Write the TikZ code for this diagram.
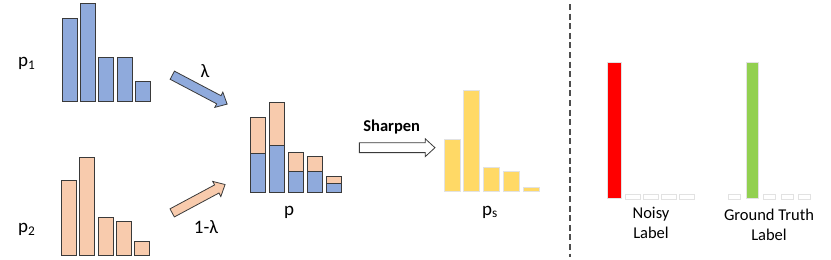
\documentclass[tikz,border=0pt]{standalone}
\usepackage{fontspec}
\setmainfont{Carlito}
\usepackage{tikz}
\usetikzlibrary{shapes.arrows, positioning}
\definecolor{barblue}{HTML}{8FAADC}
\definecolor{barpeach}{HTML}{F8CBAD}
\definecolor{baryellow}{HTML}{FFD966}
\definecolor{barred}{HTML}{FF0000}
\definecolor{bargreen}{HTML}{92D050}
\definecolor{edgedark}{HTML}{3A3A3A}
\definecolor{edgelight}{HTML}{E2E2E2}

\begin{document}
\begin{tikzpicture}[
  x=1pt, y=-1pt,
  bar/.style={line width=1pt, draw=edgedark},
  bluebar/.style={bar, fill=barblue},
  peachbar/.style={bar, fill=barpeach},
  softbar/.style={line width=0.9pt, draw=edgelight},
  plabel/.style={font=\fontsize{19}{21}\selectfont, anchor=base, inner sep=0pt},
  weight/.style={font=\fontsize{19}{21}\selectfont, anchor=base, inner sep=0pt},
  caption/.style={font=\fontsize{16.5}{20}\selectfont, align=center, anchor=north, inner sep=0pt},
  blockarrow/.style={single arrow, draw=edgedark, line width=0.8pt, inner sep=4.2pt,
                     single arrow head extend=4pt, single arrow tip angle=85},
]
\useasboundingbox (0,0) rectangle (831,260);

% input distributions
\foreach \top [count=\i] in {18.7,3.3,57.3,57.3,81.7}
  \draw[bluebar] ({62.7+18.1*(\i-1)},101.7) rectangle ({77.7+18.1*(\i-1)},\top);
\foreach \top [count=\i] in {180,157,217.7,221.7,241.3}
  \draw[peachbar] ({61.3+18.4*(\i-1)},255.7) rectangle ({76.3+18.4*(\i-1)},\top);

\node[plabel, anchor=base west] (p1) at (18,66.7) {p\textsubscript{1}};
\node[plabel, anchor=base west] (p2) at (18,232.7) {p\textsubscript{2}};

% mixing arrows
\node[blockarrow, fill=barblue, minimum height=62pt, rotate=-27.8] (mixa) at (197.5,88.5) {};
\node[blockarrow, fill=barpeach, minimum height=60pt, rotate=28.2] (mixb) at (196.4,199.9) {};
\node[weight] (lam) at (205,77.3) {λ};
\node[weight] (onelam) at (206,233) {1-λ};

% mixed distribution
\foreach \top/\mid [count=\i] in {117.7/153,102.3/145.3,152.7/171.3,156.3/171.3,176.3/183}
{
  \draw[bluebar] ({250+19*(\i-1)},192.7) rectangle ({265.5+19*(\i-1)},\mid);
  \draw[peachbar] ({250+19*(\i-1)},\mid) rectangle ({265.5+19*(\i-1)},\top);
}
\node[plabel] (p) at (289,215) {p};

% sharpening
\node[blockarrow, fill=white, inner sep=4.5pt, minimum height=75.6pt] (sharp) at (394.5,147.7) {};
\node[font=\fontsize{16.5}{18}\selectfont\bfseries, anchor=base, inner sep=0pt] (sharptxt)
  at (391.7,131.5) {Sharpen};

\foreach \top [count=\i] in {139.7,90.3,167.3,171.3,187}
  \draw[softbar, fill=baryellow] ({444+19.9*(\i-1)},191.7) rectangle ({460+19.9*(\i-1)},\top);
\node[plabel] (ps) at (490,215) {p\textsubscript{s}};

% separator
\draw[line width=1.4pt, color=edgedark!90, dash pattern=on 6pt off 3.6pt] (570,4) -- (570,257);

% one-hot labels
\draw[softbar, fill=barred] (607.3,198.7) rectangle (621.3,62.7);
\foreach \x in {625,643.3,661.3,679.3}
  \draw[softbar] (\x,199) rectangle ++(15,-4.3);
\node[caption] (noisy) at (651,207.3) {Noisy\\Label};

\draw[softbar, fill=bargreen] (746.7,198.7) rectangle (758.7,62);
\foreach \x in {728.3,763.3,781,798.3}
  \draw[softbar] (\x,199) rectangle ++(12.5,-4.3);
\node[caption] (truth) at (769,209.3) {Ground Truth\\Label};

\end{tikzpicture}
\end{document}
